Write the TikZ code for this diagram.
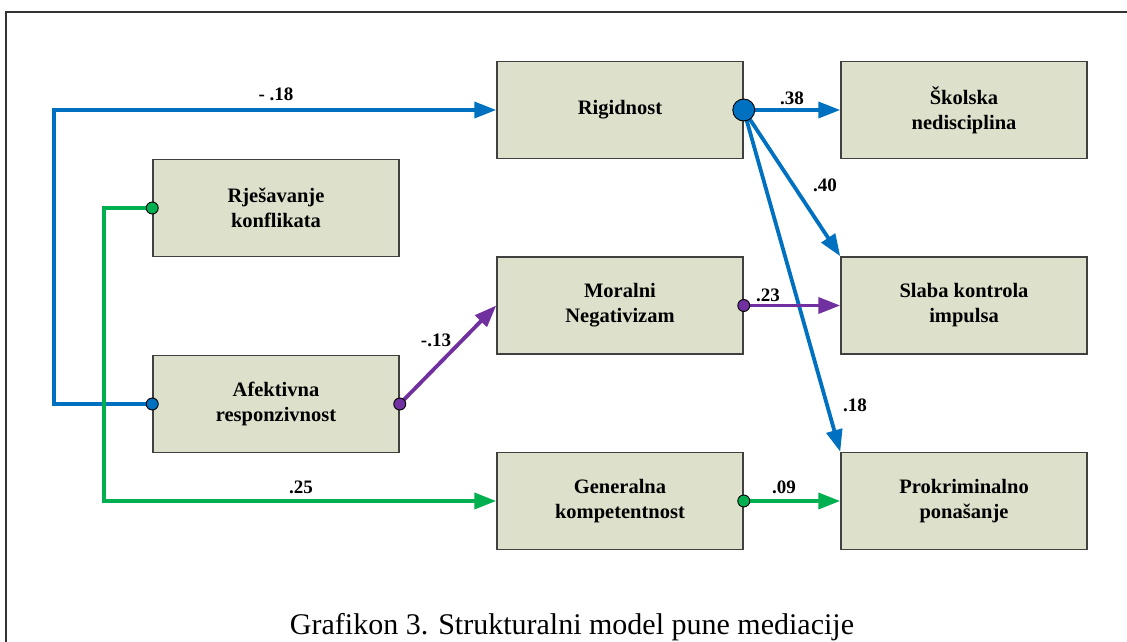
\documentclass[tikz,border=0pt]{standalone}
\usepackage{fontspec}
\setmainfont{Liberation Serif}
\usetikzlibrary{arrows.meta}
\definecolor{boxfill}{HTML}{DDE1CB}
\definecolor{cblue}{HTML}{0070C0}
\definecolor{cgreen}{HTML}{00B050}
\definecolor{cpurple}{HTML}{7030A0}
\definecolor{boxline}{HTML}{404040}
\begin{document}
\begin{tikzpicture}[x=1pt,y=-1pt,
 var/.style={draw=boxline, line width=1.5pt, fill=boxfill, minimum width=246pt, minimum height=97pt, align=center, font=\fontsize{20.5}{25}\selectfont\bfseries, inner sep=0pt},
 dot/.style={circle, draw=black, line width=0.9pt, minimum size=12pt, inner sep=0pt},
 conn/.style={line width=3.8pt, -{Triangle[length=22pt,width=16pt]}},
 lbl/.style={font=\fontsize{19}{19}\selectfont\bfseries, inner sep=0pt}
]
\useasboundingbox (0,0) rectangle (1127,642);
\draw[line width=1.2pt, black!80] (6,650) -- (6,12) -- (1135,12);

\node[var] (rig)   at (620,110)   {Rigidnost};
\node[var] (skol)  at (964,110)   {Školska\\nedisciplina};
\node[var] (rjes)  at (276,208)   {Rješavanje\\konflikata};
\node[var] (moral) at (620,305.5) {Moralni\\Negativizam};
\node[var] (slaba) at (964,305.5) {Slaba kontrola\\impulsa};
\node[var] (afek)  at (276,404)   {Afektivna\\responzivnost};
\node[var] (gen)   at (620,501)   {Generalna\\kompetentnost};
\node[var] (prok)  at (964,501)   {Prokriminalno\\ponašanje};

\draw[conn, cblue] (afek.west) -- ++(-98,0) |- (rig.west);
\draw[conn, cgreen] (rjes.west) -- ++(-48,0) |- (gen.west);
\draw[conn, cpurple] (afek.east) -- (moral.west);
\draw[conn, cblue] (rig.east) -- (skol.west);
\draw[conn, cblue] (rig.east) -- (slaba.north west);
\draw[conn, cblue] (rig.east) -- (prok.north west);
\draw[conn, cpurple] (moral.east) -- (slaba.west);
\draw[conn, cgreen] (gen.east) -- (prok.west);

\node[dot, fill=cgreen] (d1) at (rjes.west) {};
\node[dot, fill=cblue] (d2) at (afek.west) {};
\node[dot, fill=cpurple] (d3) at (afek.east) {};
\node[dot, fill=cpurple] (d4) at (moral.east) {};
\node[dot, fill=cgreen] (d5) at (gen.east) {};
\node[dot, fill=cblue, minimum size=22pt] (d6) at (rig.east) {};

\node[lbl] (l1) at (276,94) {- .18};
\node[lbl] (l2) at (792,98) {.38};
\node[lbl] (l3) at (825,185) {.40};
\node[lbl] (l4) at (768,295) {.23};
\node[lbl] (l5) at (436,340) {-.13};
\node[lbl] (l6) at (301,487) {.25};
\node[lbl] (l7) at (784,487) {.09};
\node[lbl] (l8) at (855,405) {.18};

\node[font=\fontsize{30}{30}\selectfont, anchor=base, inner sep=0pt] (cap) at (572,634) {Grafikon 3. Strukturalni model pune mediacije};
\end{tikzpicture}
\end{document}
